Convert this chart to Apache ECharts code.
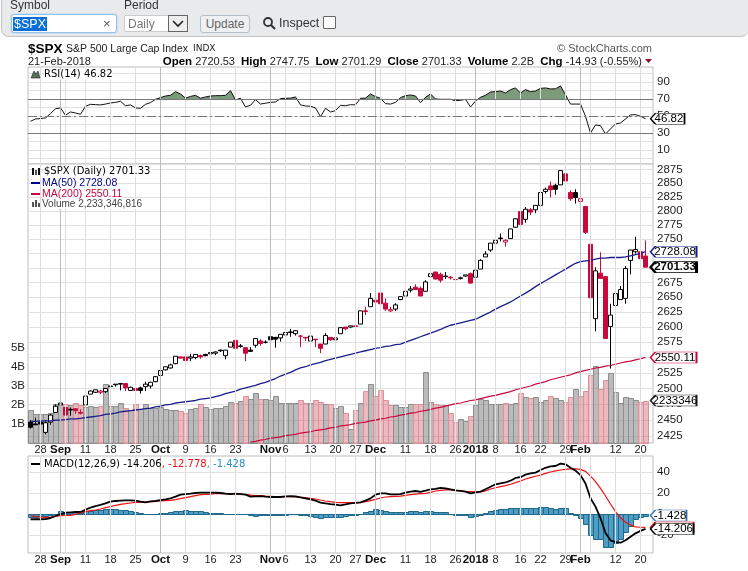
<!DOCTYPE html>
<html>
<head>
<meta charset="utf-8">
<title>$SPX</title>
<script src="https://cdn.jsdelivr.net/npm/echarts@6/dist/echarts.min.js"></script>
<style>
  html, body { margin: 0; padding: 0; background: #fff; font-family: "Liberation Sans", Arial, sans-serif; }
  #chart { position: absolute; left: 0; top: 0; width: 748px; height: 571px; }
  #bar { position: absolute; left: 1px; top: -1px; width: 747px; height: 37px; background: #e9eaec; border: 1px solid #c4c4c4; border-top: 0; border-right: 0; border-radius: 0 0 8px 8px; box-sizing: content-box; }
  #bar div { position: absolute; box-sizing: border-box; white-space: nowrap; font-size: 12px; line-height: 14px; }
  .cap { color: #333; top: -1px; }
  .box { background: #fff; }
</style>
</head>
<body>
<div id="chart"></div>
<div id="bar">
  <div class="cap" style="left:8px;top:-1px">Symbol</div>
  <div class="cap" style="left:122px;top:-1px">Period</div>
  <div class="box" style="left:9px;top:15px;width:106px;height:19px;border:1px solid #8fc1ef;border-radius:3px;box-shadow:0 0 2px #9cc8f0"></div>
  <div style="left:11px;top:18px;height:14px;background:#0a6fd4;color:#fff;font-size:12.5px;padding:0 1px">$SPX</div>
  <div style="left:101px;top:18px;color:#555;font-size:13px">&#215;</div>
  <div class="box" style="left:122px;top:16px;width:64px;height:17px;border:1px solid #ccc;border-radius:2px;color:#777;padding:1px 3px">Daily</div>
  <div style="left:166px;top:16px;width:20px;height:17px;background:#eee;border:1px solid #666"></div>
  <svg style="position:absolute;left:170px;top:21px" width="12" height="8"><path d="M1 1 L6 6 L11 1" fill="none" stroke="#222" stroke-width="1.6"/></svg>
  <div style="left:198px;top:16px;width:50px;height:18px;background:#eef0f2;border:1px solid #b5bfc8;border-radius:3px;color:#666;text-align:center;padding-top:1px">Update</div>
  <svg style="position:absolute;left:260px;top:17px" width="15" height="15"><circle cx="6" cy="6" r="4" fill="none" stroke="#333" stroke-width="1.8"/><path d="M9 9 L13 13" stroke="#333" stroke-width="2.2"/></svg>
  <div style="left:277px;top:17px;color:#333;font-size:12.5px">Inspect</div>
  <div class="box" style="left:321px;top:17px;width:13px;height:13px;border:1px solid #666;border-radius:1px"></div>
</div>
<script>
// $SPX daily bars, Aug 24 2017 to Feb 21 2018
const dates = ['Aug 24','Aug 25','Aug 28','Aug 29','Aug 30','Aug 31','Sep 1','Sep 5','Sep 6','Sep 7','Sep 8','Sep 11','Sep 12','Sep 13','Sep 14','Sep 15','Sep 18','Sep 19','Sep 20','Sep 21','Sep 22','Sep 25','Sep 26','Sep 27','Sep 28','Sep 29',
  'Oct 2','Oct 3','Oct 4','Oct 5','Oct 6','Oct 9','Oct 10','Oct 11','Oct 12','Oct 13','Oct 16','Oct 17','Oct 18','Oct 19','Oct 20','Oct 23','Oct 24','Oct 25','Oct 26','Oct 27','Oct 30','Oct 31',
  'Nov 1','Nov 2','Nov 3','Nov 6','Nov 7','Nov 8','Nov 9','Nov 10','Nov 13','Nov 14','Nov 15','Nov 16','Nov 17','Nov 20','Nov 21','Nov 22','Nov 24','Nov 27','Nov 28','Nov 29','Nov 30',
  'Dec 1','Dec 4','Dec 5','Dec 6','Dec 7','Dec 8','Dec 11','Dec 12','Dec 13','Dec 14','Dec 15','Dec 18','Dec 19','Dec 20','Dec 21','Dec 22','Dec 26','Dec 27','Dec 28','Dec 29',
  'Jan 2','Jan 3','Jan 4','Jan 5','Jan 8','Jan 9','Jan 10','Jan 11','Jan 12','Jan 16','Jan 17','Jan 18','Jan 19','Jan 22','Jan 23','Jan 24','Jan 25','Jan 26','Jan 29','Jan 30','Jan 31',
  'Feb 1','Feb 2','Feb 5','Feb 6','Feb 7','Feb 8','Feb 9','Feb 12','Feb 13','Feb 14','Feb 15','Feb 16','Feb 20','Feb 21'];

const opens = [2447,2444,2447,2431,2447,2462,2474,2470,2467,2468,2462,2474,2491,2494,2494,2495,2503,2506,2507,2508,2497,2500,2501,2503,2504,2511,
  2521,2530,2533,2540,2551,2551,2549,2550,2553,2555,2556,2557,2562,2553,2567,2578,2568,2566,2562,2570,2577,2575,
  2584,2583,2582,2587,2592,2589,2585,2583,2577,2580,2572,2572,2583,2579,2589,2600,2600,2602,2605,2627,2634,
  2645,2657,2640,2627,2630,2646,2652,2662,2667,2665,2660,2685,2693,2689,2686,2684,2680,2682,2686,2690,
  2684,2698,2719,2731,2743,2752,2745,2751,2771,2799,2785,2802,2802,2810,2835,2845,2846,2847,2867,2833,2833,
  2817,2808,2741,2614,2691,2685,2601,2636,2646,2648,2713,2728,2728,2720.53];
const highs = [2450,2454,2449,2450,2460,2475,2481,2471,2470,2468,2467,2488,2497,2498,2498,2500,2508,2507,2509,2508,2503,2504,2503,2511,2510,2520,
  2530,2535,2540,2552,2551,2551,2556,2555,2555,2556,2559,2560,2563,2562,2575,2578,2572,2567,2567,2582,2580,2578,
  2589,2581,2588,2593,2597,2595,2587,2583,2587,2580,2572,2590,2583,2584,2600,2600,2602,2606,2627,2634,2657,
  2650,2665,2648,2634,2640,2652,2660,2669,2672,2668,2679,2694,2693,2692,2693,2686,2682,2685,2688,2692,
  2696,2715,2729,2743,2749,2760,2750,2768,2787,2808,2807,2805,2810,2833,2842,2853,2849,2873,2870,2837,2839,
  2835,2809,2763,2701,2727,2686,2639,2672,2669,2703,2731,2754,2748,2747.75];
const lows = [2437,2442,2440,2428,2443,2462,2473,2447,2457,2460,2459,2474,2491,2493,2491,2493,2499,2503,2497,2496,2496,2489,2492,2496,2500,2510,
  2521,2529,2532,2539,2549,2541,2544,2547,2548,2552,2553,2554,2559,2547,2567,2564,2566,2544,2559,2566,2569,2573,
  2574,2566,2576,2585,2584,2586,2567,2577,2576,2567,2557,2572,2577,2578,2589,2595,2599,2598,2605,2620,2634,
  2606,2639,2627,2625,2627,2645,2652,2658,2662,2652,2660,2685,2680,2675,2681,2680,2677,2680,2685,2673,
  2683,2698,2719,2728,2738,2746,2737,2751,2770,2769,2779,2793,2796,2809,2831,2824,2829,2847,2852,2818,2813,
  2808,2759,2638,2593,2681,2581,2532,2622,2646,2639,2689,2725,2706,2701.29];
const closes = [2439,2443,2444,2446,2458,2472,2477,2458,2466,2465,2461,2488,2496,2498,2496,2500,2504,2507,2508,2501,2502,2497,2497,2507,2510,2519,
  2529,2535,2538,2552,2549,2545,2551,2555,2551,2553,2558,2559,2561,2562,2575,2565,2569,2557,2560,2581,2573,2575,
  2579,2580,2588,2591,2591,2594,2585,2582,2585,2579,2565,2586,2579,2582,2599,2597,2602,2601,2627,2626,2648,
  2642,2639,2630,2629,2637,2651,2660,2664,2663,2652,2676,2690,2681,2679,2685,2683,2680,2683,2688,2674,
  2696,2713,2724,2743,2748,2751,2748,2768,2786,2776,2803,2798,2810,2833,2839,2838,2839,2873,2854,2822,2824,
  2822,2762,2649,2695,2682,2581,2620,2656,2663,2699,2731,2732,2716,2701.33];

const volumes = [1.72,1.55,1.55,1.55,1.58,2.08,2.08,2.08,2.0,2.13,2.0,1.9,1.95,1.92,1.95,3.09,1.95,1.95,2.13,1.86,1.76,2.08,1.8,2.08,1.86,1.86,
  1.92,1.78,1.72,1.75,1.69,1.57,1.77,1.86,2.08,1.92,1.77,1.82,1.82,1.95,2.18,2.09,2.2,2.5,2.34,2.66,2.3,2.3,
  2.25,2.46,2.11,2.13,2.13,2.13,2.25,2.11,2.13,2.25,2.17,2.08,2.08,1.82,1.93,1.6,0.76,1.76,2.13,2.72,3.13,
  2.5,2.81,2.29,2.0,2.0,1.9,1.9,2.05,2.05,2.05,3.75,2.17,2.05,2.0,2.0,1.6,1.1,1.25,1.18,1.4,
  2.0,2.3,2.25,2.03,2.03,2.03,2.13,2.03,2.13,2.66,2.45,2.35,2.45,2.18,2.24,2.5,2.35,2.24,2.18,2.45,2.87,
  2.5,2.76,3.6,4.08,2.87,3.3,3.7,2.7,2.13,2.45,2.35,2.24,2.18,2.233];

const ma50 = [2448,2448,2449,2449,2449,2450,2450,2451,2452,2452,2453,2454,2455,2456,2457,2459,2460,2461,2463,2464,2465,2466,2467,2468,2469,2471,2472,2474,2475,2477,2478,2479,2480,2481,2483,2484,
  2485,2487,2489,2492,2494,2496,2499,2501,2503,2505,2508,2510,2513,2516,2520,2523,2526,2530,2533,2535,2538,2540,2542,2545,2547,2549,2551,2553,2555,2557,2559,2561,2563,
  2565,2566,2568,2569,2571,2572,2575,2578,2581,2584,2587,2590,2593,2596,2600,2603,2605,2607,2609,2611,2613,2617,2621,2625,2630,2634,2638,
  2642,2647,2652,2657,2662,2668,2673,2678,2683,2688,2693,2698,2703,2708,2711,2712,2713,2715,2717,2717,2718,2718,2718,2719,2721,2723,2725,2728.08];

// MA(200) sits below the panel before this date
const ma200From = 'Oct 26';
const ma200Visible = [2416,2417,2419,2420,2422,2423,2424,2426,2427,2428,2430,2431,2432,2434,2435,2436,2438,2439,2441,2442,2443,2445,2446,2447,2449,
  2450,2452,2453,2455,2456,2458,2459,2461,2462,2464,2465,2467,2469,2470,2472,2474,2476,2477,2479,2481,2482,2484,2486,2488,2489,
  2491,2493,2495,2498,2500,2502,2504,2507,2509,2511,2514,2516,2518,2520,2522,2525,2527,2529,2531,2533,2534,2536,2537,2539,2541,2543,2544,2546,2548,2550.11];

const rsi = [43.7,46.5,46.9,47.7,52.7,58.6,59.4,50.8,54.7,53.5,52,61.4,63.7,63.3,63,64,65.3,66,67.3,62,63,59.4,59,63.7,65.7,69.6,
  71.6,73.5,74.3,78.6,75.9,71,73,74.3,70.8,72.4,73.5,73.9,73.9,74.3,79.8,69,70.8,60.6,62.6,69.2,64,65,
  66,66.5,70.4,70.8,71,72.4,63,61.8,61.4,59.4,49.2,59,54.7,56.3,62.6,62,63.3,63,70.8,71,75.9,
  72.7,70.8,64.5,64,66,71.6,73.9,74.7,73.5,65.7,72,75.9,70,69.6,69.6,69.6,68,68.4,69.6,60.6,
  67.6,72,74.3,78.2,78.6,79.4,77,81,83,77,81,78.6,79.4,82.5,83,81.8,82,85.3,75,64,64,
  64,49.6,30,39.4,38.6,28.8,34.7,40.6,41.8,46.5,51.2,51.6,49.6,46.82];

const macdLine = [-5,-5,-5,-4.8,-3.8,-1.9,0,1.3,1.6,1.9,1.9,4.1,6,7.6,8.6,10.2,11.7,12.4,12.7,13,13,12.7,11.7,11.1,12,12.4,
  13.3,14,14.9,16.5,18.4,19,19.4,20,20.3,20.3,20.3,20.3,20,19.4,19,19.4,19,18.4,16.5,16.8,17.1,16.5,
  16.2,16.2,16.2,16.8,17.1,16.8,15.9,14.9,14,12.7,10.8,10.2,9.5,8.9,8.3,9.2,10.2,10.5,11.1,12.7,14.9,
  18.4,19.7,19.7,18.7,18.7,19,20.3,21.3,21.9,21,22.2,23.5,24,24.8,24.4,23.5,22.5,22,21.3,19.7,
  20.6,21.3,23.5,26,28.3,29.2,30,31.7,34.3,35,37.5,38.7,39.4,41.9,44,45.4,45.7,47.9,47.3,44,41.3,
  37,29,15,7,-4,-18,-25,-26.7,-27.3,-25,-21.6,-18.4,-16,-14.206];
const signalLine = [-1.9,-2.2,-2.9,-3.2,-2.9,-2.2,-1.6,-1.3,-1.3,-0.3,1,2.2,3.2,3.8,4.8,6,7,8.3,9.2,9.8,10.5,11.1,11.1,11.4,11.7,12,
  12.4,12.7,13,13.7,14.6,15.6,16.5,17.5,18.4,18.7,19,19.4,19.4,19.4,19.4,19.4,19,18.7,18,17.5,17.5,17.1,
  16.8,16.5,16.5,16.5,16.5,16.2,15.9,15.6,14.9,14.3,13.3,12.4,11.7,11.1,10.8,10.8,10.8,10.8,10.8,11.7,12.7,
  14,15.2,16.2,16.5,16.8,17.1,17.8,18.4,19,19.4,19.7,20.6,21.9,22.5,22.9,22.9,22.5,22,21.6,21.3,
  21,21,21.9,23.8,25,26,27,28.3,29.8,31.4,33.3,34.6,35.9,37,38.7,40,41,41.9,42.5,42.9,42.9,
  42.5,40.6,36,30.8,24.4,17.1,9.5,2.2,-3.5,-7.9,-10.5,-12.2,-12.6,-12.778];
const histogram = [-3,-2.5,-2.3,-1.8,-1,0.3,2.9,1.9,1.6,1.6,1.3,2.5,3.2,3.8,4.1,4.4,4.4,4.4,4.1,3.5,2.9,2.2,1.3,0.3,-0.3,-0.3,
  0.6,1.3,1.9,2.5,3.2,3.5,3.2,2.5,2.5,2.2,1.3,1,0.6,0,0,0.3,-0.3,0,-1.3,-1.9,-1.3,-1.3,
  -1,-1,-1,-0.6,-0.3,-0.3,-0.6,-1.3,-1.9,-2.9,-3.5,-2.9,-2.9,-2.9,-2.9,-1.9,-1.3,-0.6,0,1.6,2.9,
  4.4,3.8,3.2,2.2,1.6,1.6,2.2,2.5,2.5,1.9,2.5,2.5,2.2,1.9,1.6,0.3,-1,-1.3,-1.3,-2.5,
  -1.6,-0.6,1.3,3.2,4.1,4.4,4.4,5.4,5.7,5.4,5.4,5.7,5.7,6.3,6.3,5.7,5,5.7,5.4,0.6,-1.3,
  -3.5,-9.5,-20,-23.5,-24,-31,-31,-27.3,-23.5,-16.8,-11.4,-5,-2.5,-1.428];

// date axis
const tickDates = ['Aug 28','Sep 1','Sep 11','Sep 18','Sep 25','Oct 2','Oct 9','Oct 16','Oct 23','Nov 1','Nov 6','Nov 13','Nov 20','Nov 27','Dec 1','Dec 11','Dec 18','Dec 26','Jan 2','Jan 8','Jan 16','Jan 22','Jan 29','Feb 1','Feb 12','Feb 20'];
const tickLabels = ['28','Sep','11','18','25','Oct','9','16','23','Nov','6','13','20','27','Dec','11','18','26','2018','8','16','22','29','Feb','12','20'];
const boldLabels = ['Sep','Oct','Nov','Dec','2018','Feb'];
const extraLines = ['Sep 5','Dec 4','Feb 5'];

// value axes
const rsiGrid = [0,10,20,30,40,50,60,70,80,90,100];
const rsiTicks = [10,30,50,70,90];
const priceTicks = [2425,2450,2475,2500,2525,2550,2575,2600,2625,2650,2675,2700,2725,2750,2775,2800,2825,2850,2875];
const volumeTicks = [1,2,3,4,5];
const macdTicks = [-20,0,20,40];

const FONT = '"Liberation Sans", Arial, sans-serif';
const WIDE = '"DejaVu Sans", Verdana, sans-serif';
const RED = '#c9093c';
const NAVY = '#1c1c8e';
const LAST = dates.length; // spare slot after the last bar, the tags hang from it

const RSI_MIN = -6.5, RSI_MAX = 107.6, RSI_TOP = 67, RSI_HEIGHT = 97;

const chart = echarts.init(document.getElementById('chart'));

function isDown(i) {
  return i > 0 && closes[i] < closes[i - 1];
}

// StockCharts colouring: hollow when close >= open, red when close < previous close
function candleItems() {
  return dates.map((d, i) => {
    const line = isDown(i) ? RED : '#000';
    const fill = closes[i] >= opens[i] ? '#fff' : line;
    return {
      value: [opens[i], closes[i], lows[i], highs[i]],
      itemStyle: { color: fill, color0: fill, borderColor: line, borderColor0: line, borderColorDoji: line, borderWidth: 1 }
    };
  });
}

// columns sharing a 1px border with the next one, a plain bar series doubles it
function columnRenderer(styleOf) {
  return function (params, api) {
    const i = api.value(0);
    const base = api.coord([i, 0]);
    const top = api.coord([i, api.value(1)]);
    const y0 = Math.round(Math.min(base[1], top[1])) + 0.5;
    const y1 = Math.round(Math.max(base[1], top[1])) + 0.5;
    return {
      type: 'rect',
      shape: { x: base[0] - 2, y: y0, width: 5, height: y1 - y0 },
      style: styleOf(i)
    };
  };
}

const volumeStyle = i => (isDown(i)
  ? { fill: 'rgba(205,60,80,0.36)', stroke: '#dc9199', lineWidth: 1 }
  : { fill: 'rgba(120,120,120,0.5)', stroke: '#8e8e8e', lineWidth: 1 });
const histStyle = () => ({ fill: '#4f9cc4', stroke: '#1f6a8c', lineWidth: 1 });

// fill only where RSI is above 70: hard stop on the 70 level of the panel
function rsiFill() {
  const stop = (RSI_MAX - 70) / (RSI_MAX - RSI_MIN);
  return new echarts.graphic.LinearGradient(0, RSI_TOP, 0, RSI_TOP + RSI_HEIGHT, [
    { offset: 0, color: '#7b9b7a' },
    { offset: stop, color: '#7b9b7a' },
    { offset: stop, color: 'rgba(123,155,122,0)' },
    { offset: 1, color: 'rgba(123,155,122,0)' }
  ], true);
}

function tag(value, text, w, color, bold) {
  const h = 11;
  return {
    coord: [LAST, value],
    symbol: `path://M5 0L${w} 0L${w} ${h}L5 ${h}L0 ${h / 2}Z`,
    symbolSize: [w, h],
    symbolOffset: [w / 2, 0],
    itemStyle: { color: '#fff', borderColor: color, borderWidth: bold ? 1.5 : 1 },
    label: {
      show: true, position: 'inside', formatter: text, color: '#000', offset: [1.5, 0],
      fontFamily: FONT, fontSize: 11.5, fontWeight: bold ? 'bold' : 'normal'
    }
  };
}

// weekly date gridlines, month starts are darker
function dateLines() {
  return {
    silent: true, symbol: 'none', animation: false, label: { show: false },
    lineStyle: { type: 'solid', width: 1, color: '#dedede' },
    data: tickDates.concat(extraLines).map(d => {
      const major = boldLabels.includes(tickLabels[tickDates.indexOf(d)]);
      return { xAxis: d, lineStyle: { type: 'solid', width: 1, color: major ? '#bdbdbd' : '#dedede' } };
    })
  };
}

function xAxisFor(gridIndex, showLabels) {
  return {
    type: 'category', gridIndex, data: dates.concat(' '), boundaryGap: true,
    axisLine: { show: false }, axisTick: { show: false }, splitLine: { show: false },
    axisLabel: {
      show: showLabels, margin: 1, fontFamily: FONT, fontSize: 11, color: '#222', hideOverlap: false,
      interval: (i, v) => tickDates.includes(v),
      formatter: v => {
        const t = tickLabels[tickDates.indexOf(v)];
        return boldLabels.includes(t) ? `{b|${t}}` : t;
      },
      rich: { b: { fontFamily: FONT, fontSize: 11.5, fontWeight: 'bold', color: '#111' } }
    }
  };
}

function valueAxis(gridIndex, min, max, labels, lines) {
  return {
    type: 'value', gridIndex, position: 'right', min, max, scale: true,
    axisLine: { show: false },
    axisTick: { show: false, customValues: lines },
    splitLine: { show: true, lineStyle: { color: '#e0e0e0', width: 1 } },
    axisLabel: { show: true, margin: 4, fontFamily: FONT, fontSize: 11.5, color: '#222', customValues: labels, hideOverlap: false, formatter: v => String(v) }
  };
}

function text(x, y, style) {
  return { type: 'text', x, y, z: 20, silent: true, style: Object.assign({ fontFamily: FONT, fill: '#000', verticalAlign: 'middle' }, style) };
}
function bar(x, y, w, h, fill) {
  return { type: 'rect', z: 21, silent: true, shape: { x, y, width: w, height: h }, style: { fill } };
}

const option = {
  animation: false,
  backgroundColor: '#fff',
  grid: [
    { left: 28, top: RSI_TOP, width: 625, height: RSI_HEIGHT, show: true, borderColor: '#bdbdbd', borderWidth: 1, backgroundColor: '#fff' },
    { left: 28, top: 164, width: 625, height: 279, show: true, borderColor: '#bdbdbd', borderWidth: 1, backgroundColor: '#fff' },
    { left: 28, top: 456, width: 625, height: 97, show: true, borderColor: '#bdbdbd', borderWidth: 1, backgroundColor: '#fff' }
  ],
  xAxis: [xAxisFor(0, false), xAxisFor(1, true), xAxisFor(2, true)],
  yAxis: [
    valueAxis(0, RSI_MIN, RSI_MAX, rsiTicks, rsiGrid),
    Object.assign(valueAxis(1, 2414.6, 2885.1, priceTicks, priceTicks), { type: 'log', logBase: 10 }),
    {
      type: 'value', gridIndex: 1, position: 'left', min: 0, max: 14.7,
      axisLine: { show: false }, axisTick: { show: false }, splitLine: { show: false },
      axisLabel: { margin: 3, fontFamily: FONT, fontSize: 11.5, color: '#222', customValues: volumeTicks, formatter: v => v + 'B' }
    },
    valueAxis(2, -37.1, 55.2, macdTicks, macdTicks)
  ],
  series: [
    {
      name: 'RSI area', type: 'line', xAxisIndex: 0, yAxisIndex: 0, data: rsi, showSymbol: false, silent: true,
      lineStyle: { width: 0, opacity: 0 }, areaStyle: { origin: 70, opacity: 1, color: rsiFill() }, z: 1,
      markLine: dateLines()
    },
    {
      name: 'RSI(14)', type: 'line', xAxisIndex: 0, yAxisIndex: 0, data: rsi, showSymbol: false, silent: true,
      lineStyle: { color: '#111', width: 1 }, z: 3,
      markLine: {
        silent: true, symbol: 'none', animation: false, label: { show: false },
        data: [
          { yAxis: 70, lineStyle: { type: 'solid', color: '#777', width: 1 } },
          { yAxis: 50, lineStyle: { type: [9, 3, 2, 3], color: '#777', width: 1 } },
          { yAxis: 30, lineStyle: { type: 'solid', color: '#777', width: 1 } }
        ]
      },
      markPoint: { silent: true, animation: false, data: [tag(46.82, '46.82', 34, '#000')] }
    },
    {
      name: 'Volume', type: 'custom', xAxisIndex: 1, yAxisIndex: 2, silent: true, z: 1,
      data: volumes.map((v, i) => [i, v]), encode: { x: 0, y: 1 },
      renderItem: columnRenderer(volumeStyle),
      markLine: dateLines(),
      markPoint: { silent: true, animation: false, data: [tag(2.233, '2233346', 46, '#222')] }
    },
    {
      name: 'MA(200)', type: 'line', xAxisIndex: 1, yAxisIndex: 1, showSymbol: false, silent: true, z: 2,
      data: dates.map((d, i) => (i < dates.indexOf(ma200From) ? null : ma200Visible[i - dates.indexOf(ma200From)])),
      lineStyle: { color: RED, width: 1.2 },
      markPoint: { silent: true, animation: false, data: [tag(2550.11, '2550.11', 46, RED)] }
    },
    {
      name: 'MA(50)', type: 'line', xAxisIndex: 1, yAxisIndex: 1, data: ma50, showSymbol: false, silent: true, z: 4,
      lineStyle: { color: NAVY, width: 1.3 },
      markPoint: { silent: true, animation: false, data: [tag(2728.08, '2728.08', 46, NAVY)] }
    },
    {
      name: '$SPX', type: 'candlestick', xAxisIndex: 1, yAxisIndex: 1, data: candleItems(), barWidth: 4, silent: true, z: 3,
      markPoint: { silent: true, animation: false, z: 6, data: [tag(2701.33, '2701.33', 46, '#000', true)] }
    },
    {
      name: 'Histogram', type: 'custom', xAxisIndex: 2, yAxisIndex: 3, silent: true, z: 1,
      data: histogram.map((v, i) => [i, v]), encode: { x: 0, y: 1 },
      renderItem: columnRenderer(histStyle),
      markLine: dateLines(),
      markPoint: { silent: true, animation: false, data: [tag(-1.428, '-1.428', 36, '#3a6db0')] }
    },
    {
      name: 'Signal', type: 'line', xAxisIndex: 2, yAxisIndex: 3, data: signalLine, showSymbol: false, silent: true, z: 3,
      lineStyle: { color: '#f01010', width: 1.2 },
      markPoint: { silent: true, animation: false, data: [tag(-12.778, '-12.778', 43, '#f01010')] }
    },
    {
      name: 'MACD', type: 'line', xAxisIndex: 2, yAxisIndex: 3, data: macdLine, showSymbol: false, silent: true, z: 4,
      lineStyle: { color: '#000', width: 1.8 },
      markPoint: { silent: true, animation: false, z: 7, data: [tag(-14.206, '-14.206', 43, '#000')] }
    }
  ],
  graphic: [
    text(28, 49, { text: '$SPX', fontSize: 13.5, fontWeight: 'bold' }),
    text(66, 49, { text: 'S&P 500 Large Cap Index', fontSize: 10.5, fill: '#222' }),
    text(193, 49, { text: 'INDX', fontFamily: WIDE, fontSize: 9, fill: '#222' }),
    text(652, 49, { text: '\u00a9 StockCharts.com', fontSize: 11, fill: '#555', align: 'right' }),
    text(28, 61.5, { text: '21-Feb-2018', fontSize: 11, fill: '#222' }),
    text(642, 61.5, {
      align: 'right', fontSize: 11, fill: '#222',
      text: '{b|Open} 2720.53  {b|High} 2747.75  {b|Low} 2701.29  {b|Close} 2701.33  {b|Volume} 2.2B  {b|Chg} -14.93 (-0.55%)',
      rich: { b: { fontFamily: FONT, fontSize: 11.5, fontWeight: 'bold', fill: '#000' } }
    }),
    { type: 'polygon', z: 21, silent: true, shape: { points: [[645, 59], [652, 59], [648.5, 63]] }, style: { fill: '#8b0e2c' } },

    // RSI legend
    { type: 'polygon', z: 21, silent: true, shape: { points: [[31, 78], [34, 71], [36, 74], [38, 71], [40, 78]] }, style: { fill: '#55705a', stroke: '#222', lineWidth: 0.6 } },
    text(44, 74.5, { text: 'RSI(14) 46.82', fontFamily: WIDE, fontSize: 10, backgroundColor: '#fff' }),

    // price legend
    bar(32, 168, 2, 7, '#111'), bar(35, 170, 2, 5, '#555'), bar(38, 168, 2, 7, '#111'),
    text(44, 171.5, { text: '$SPX (Daily) 2701.33', fontFamily: WIDE, fontSize: 10, backgroundColor: '#fff' }),
    bar(31, 182, 9, 2, '#00008b'),
    text(42, 183, { text: 'MA(50) 2728.08', fontSize: 10.5, fill: '#00008b', backgroundColor: '#fff' }),
    bar(31, 193, 9, 2, RED),
    text(42, 194, { text: 'MA(200) 2550.11', fontSize: 10.5, fill: RED, backgroundColor: '#fff' }),
    bar(32, 202, 2, 5, '#555'), bar(35, 200, 2, 7, '#555'), bar(38, 203, 2, 4, '#555'),
    text(42, 204, { text: 'Volume 2,233,346,816', fontSize: 10, fill: '#444', backgroundColor: '#fff' }),

    // MACD legend
    bar(31, 463, 9, 2, '#000'),
    text(44, 464, {
      fontFamily: WIDE, fontSize: 10,
      text: 'MACD(12,26,9) -14.206{r|, -12.778}{c|, -1.428}',
      rich: { r: { fontFamily: WIDE, fontSize: 10, fill: '#f01010' }, c: { fontFamily: WIDE, fontSize: 10, fill: '#2a8fc6' } }
    })
  ]
};

chart.setOption(option);
window.addEventListener('resize', () => chart.resize());
</script>
</body>
</html>
